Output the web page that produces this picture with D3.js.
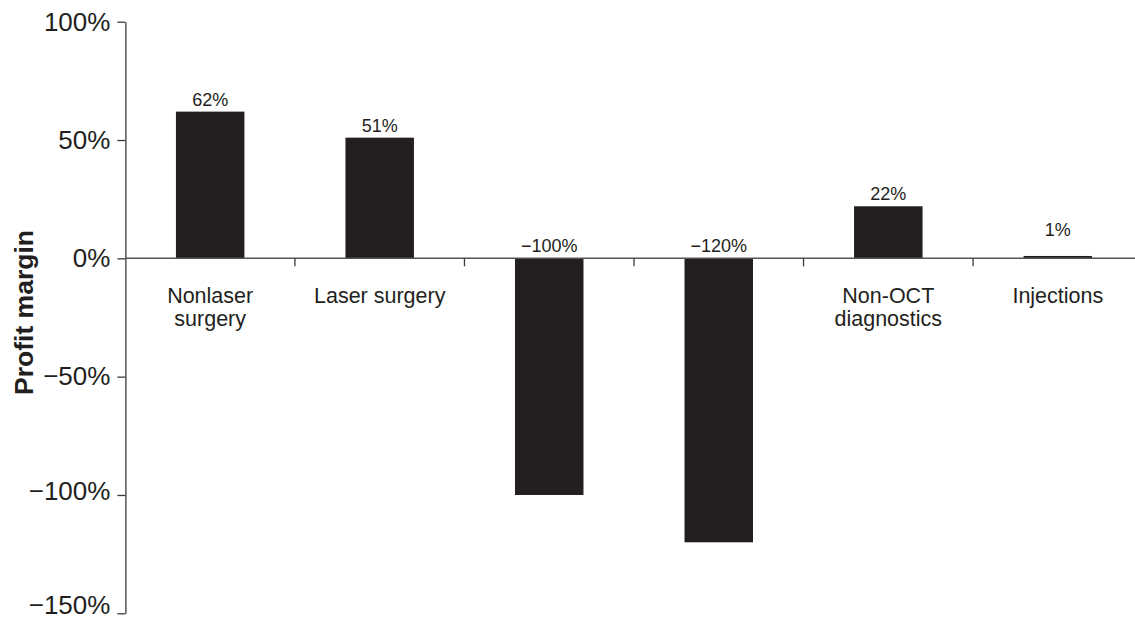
<!DOCTYPE html>
<html>
<head>
<meta charset="utf-8">
<script src="https://cdn.jsdelivr.net/npm/d3@7"></script>
<style>
  html, body { margin: 0; padding: 0; background: #fff; }
  svg { display: block; font-family: "Liberation Sans", Arial, Helvetica, sans-serif; }
</style>
</head>
<body>
<svg id="chart" width="1135" height="620"></svg>
<script>
// ---- data ----
const categories = [["Nonlaser", "surgery"], ["Laser surgery"], [], [], ["Non-OCT", "diagnostics"], ["Injections"]];
const values = [62, 51, -100, -120, 22, 1];
const valueLabels = ["62%", "51%", "\u2212100%", "\u2212120%", "22%", "1%"];
const yTicks = [100, 50, 0, -50, -100, -150];
const yTickLabels = ["100%", "50%", "0%", "\u221250%", "\u2212100%", "\u2212150%"];
const yTitle = "Profit margin";

// ---- layout ----
const svg = d3.select("#chart");
const ink = "#231f20";
const axisColor = "#3a3a3a";

const x = d3.scaleBand()
  .domain(d3.range(values.length))
  .range([125.4, 1142.6])
  .paddingInner(0.596)
  .paddingOuter(0.298);

const y = d3.scaleLinear().domain([-150, 100]).range([613.3, 21.7]);

// bars
svg.append("g").selectAll("rect")
  .data(values)
  .join("rect")
  .attr("x", (d, i) => x(i))
  .attr("width", x.bandwidth())
  .attr("y", d => y(Math.max(d, 0)))
  .attr("height", d => Math.abs(y(d) - y(0)))
  .attr("fill", ink);

// value labels
svg.append("g").selectAll("text")
  .data(values)
  .join("text")
  .attr("x", (d, i) => x(i) + x.bandwidth() / 2)
  .attr("y", d => y(Math.max(d, 0)) - (d > 0 && d < 5 ? 20 : 6))
  .attr("text-anchor", "middle")
  .attr("font-size", 18)
  .attr("fill", ink)
  .text((d, i) => valueLabels[i]);

// y axis
const yAxis = d3.axisLeft(y)
  .tickValues(yTicks)
  .tickFormat((d, i) => yTickLabels[i])
  .tickSizeInner(8)
  .tickSizeOuter(0)
  .tickPadding(7);
const gy = svg.append("g").attr("transform", "translate(125.4,0)").call(yAxis);
gy.select(".domain").attr("stroke", axisColor).attr("stroke-width", 1.3);
gy.selectAll(".tick line").attr("stroke", axisColor).attr("stroke-width", 1.3);
gy.selectAll(".tick text")
  .attr("font-size", 26)
  .attr("font-family", "'Liberation Sans', Arial, sans-serif")
  .attr("fill", ink)
  .attr("y", d => (d < -125 ? -8 : d < -75 ? -4 : 0));

// zero line (category axis)
const boundaries = d3.range(1, values.length).map(i => x(i) - x.step() * x.paddingInner() / 2);
svg.append("line")
  .attr("x1", x.range()[0]).attr("x2", x.range()[1])
  .attr("y1", y(0)).attr("y2", y(0))
  .attr("stroke", "#555").attr("stroke-width", 1.5);
svg.append("g").selectAll("line")
  .data(boundaries)
  .join("line")
  .attr("x1", d => d).attr("x2", d => d)
  .attr("y1", y(0)).attr("y2", y(0) + 8)
  .attr("stroke", axisColor).attr("stroke-width", 1.3);

// category labels
const catG = svg.append("g");
categories.forEach((lines, i) => {
  const t = catG.append("text")
    .attr("x", x(i) + x.bandwidth() / 2)
    .attr("y", y(0) + 45)
    .attr("text-anchor", "middle")
    .attr("font-size", 21.5)
    .attr("fill", ink);
  lines.forEach((ln, j) => {
    t.append("tspan")
      .attr("x", x(i) + x.bandwidth() / 2)
      .attr("dy", j === 0 ? 0 : 23)
      .text(ln);
  });
});

// y title
svg.append("text")
  .attr("transform", `translate(33,${(y(0) + y(-50)) / 2 - 5}) rotate(-90)`)
  .attr("text-anchor", "middle")
  .attr("font-size", 26.5)
  .attr("font-weight", "bold")
  .attr("fill", ink)
  .text(yTitle);
</script>
</body>
</html>
